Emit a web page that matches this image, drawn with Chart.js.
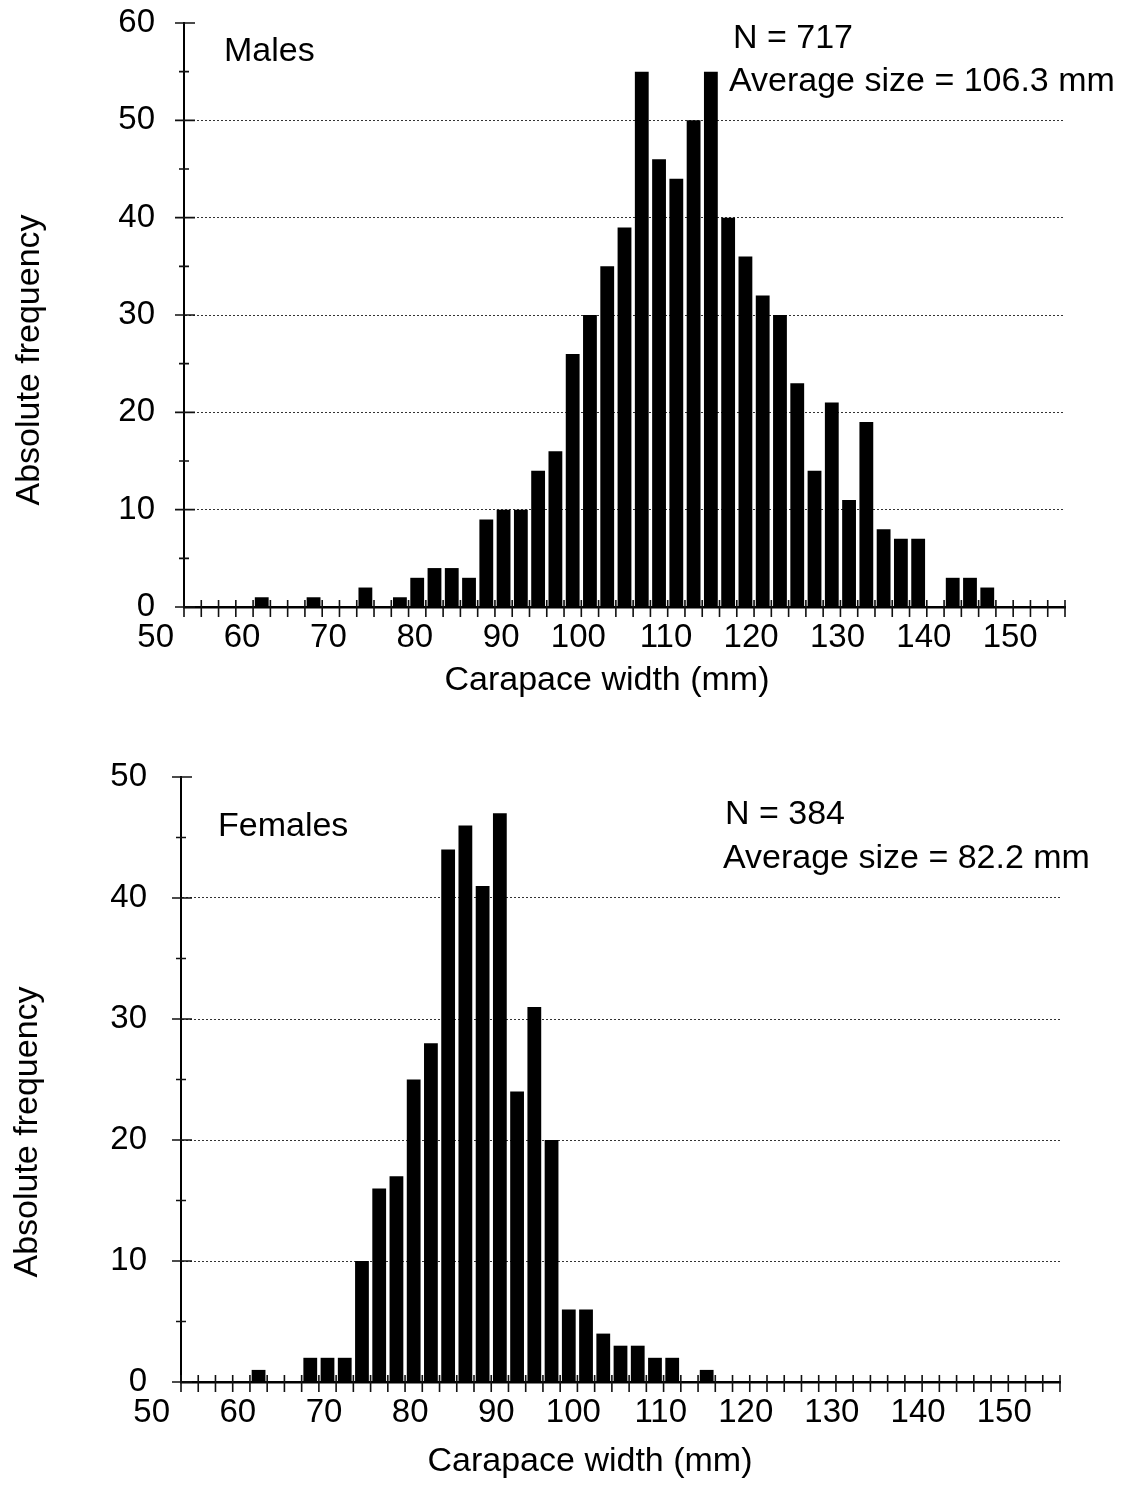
<!DOCTYPE html>
<html>
<head>
<meta charset="utf-8">
<script src="https://cdn.jsdelivr.net/npm/chart.js@4/dist/chart.umd.min.js"></script>
<style>
html,body{margin:0;padding:0;background:#fff;}
#wrap{position:relative;width:1127px;height:1485px;overflow:hidden;}
#c1{position:absolute;left:0;top:0;}
#c2{position:absolute;left:0;top:740px;}
</style>
</head>
<body>
<div id="wrap">
<canvas id="c1" width="1127" height="740"></canvas>
<canvas id="c2" width="1127" height="745"></canvas>
</div>
<script>
// ---- data ----
const binCenters = [51,53,55,57,59,61,63,65,67,69,71,73,75,77,79,81,83,85,87,89,91,93,95,97,99,101,103,105,107,109,111,113,115,117,119,121,123,125,127,129,131,133,135,137,139,141,143,145,147,149,151];
const maleCounts = [0,0,0,0,1,0,0,1,0,0,2,0,1,3,4,4,3,9,10,10,14,16,26,30,35,39,55,46,44,50,55,40,36,32,30,23,14,21,11,19,8,7,7,0,3,3,2,0,0,0,0];
const femaleCounts = [0,0,0,0,1,0,0,2,2,2,10,16,17,25,28,44,46,41,47,24,31,20,6,6,4,3,3,2,2,0,1,0,0,0,0,0,0,0,0,0,0,0,0,0,0,0,0,0,0,0,0];
const xTickLabels = [50,60,70,80,90,100,110,120,130,140,150];
const maleYTicks = [0,10,20,30,40,50,60];
const femaleYTicks = [0,10,20,30,40,50];
const maleInfo = ["Males", "N = 717", "Average size = 106.3 mm"];
const femaleInfo = ["Females", "N = 384", "Average size = 82.2 mm"];
const xTitle = "Carapace width (mm)";
const yTitle = "Absolute frequency";

const FAMILY = '"Liberation Sans", Arial, Helvetica, sans-serif';
Chart.defaults.font.family = FAMILY;
Chart.defaults.color = '#000';

// tick marks crossing the axes (drawn from the scales)
const axisDeco = {
  id: 'axisDeco',
  afterDatasetsDraw(chart) {
    const {ctx, chartArea: ca} = chart;
    const x = chart.scales.x, y = chart.scales.y;
    ctx.save();
    ctx.strokeStyle = '#111';
    ctx.lineWidth = 1.6;
    ctx.beginPath();
    ctx.moveTo(ca.left - 9, ca.bottom);
    ctx.lineTo(ca.left, ca.bottom);
    x.ticks.forEach(t => {
      const px = x.getPixelForValue(t.value);
      ctx.moveTo(px, ca.bottom - 7);
      ctx.lineTo(px, ca.bottom + 10);
    });
    y.ticks.forEach(t => {
      const py = y.getPixelForValue(t.value);
      ctx.moveTo(ca.left - 9, py);
      ctx.lineTo(ca.left + 11, py);
      const m = t.value + 5;
      if (m < y.max) {
        const pm = y.getPixelForValue(m);
        ctx.moveTo(ca.left - 5, pm);
        ctx.lineTo(ca.left + 5, pm);
      }
    });
    ctx.stroke();
    ctx.restore();
  }
};

// text annotations and axis titles
const annot = {
  id: 'annot',
  afterDraw(chart, args, opts) {
    const ctx = chart.ctx;
    (opts.items || []).forEach(it => {
      ctx.save();
      ctx.fillStyle = '#000';
      ctx.font = (it.size || 34) + 'px ' + FAMILY;
      ctx.textAlign = it.align || 'left';
      ctx.textBaseline = it.baseline || 'alphabetic';
      ctx.translate(it.x, it.y);
      if (it.rotate) ctx.rotate(it.rotate);
      ctx.fillText(it.text, 0, 0);
      ctx.restore();
    });
  }
};

function makeChart(id, counts, yMax, yTicks, geom, items) {
  return new Chart(document.getElementById(id), {
    type: 'bar',
    data: {
      datasets: [{
        data: binCenters.map((c, i) => ({x: c, y: counts[i]})),
        backgroundColor: '#000',
        borderWidth: 0,
        barPercentage: 0.8,
        categoryPercentage: 1.0
      }]
    },
    plugins: [axisDeco, annot],
    options: {
      responsive: false,
      animation: false,
      events: [],
      layout: {padding: {top: geom.top, right: geom.right, bottom: 0, left: 0}},
      plugins: {
        legend: {display: false},
        tooltip: {enabled: false},
        annot: {items: items}
      },
      scales: {
        x: {
          type: 'linear',
          min: 50, max: 152,
          offset: false,
          grid: {display: false, drawTicks: false},
          border: {display: true, color: '#000', width: 2.5},
          ticks: {
            stepSize: 2,
            autoSkip: false,
            maxRotation: 0, minRotation: 0,
            align: 'end',
            labelOffset: geom.labelOffset,
            padding: 11,
            color: '#000',
            font: {size: 33},
            callback: v => xTickLabels.includes(v) ? String(v) : ''
          },
          afterFit: s => { s.height = geom.xHeight; }
        },
        y: {
          min: 0, max: yMax,
          grid: {
            drawTicks: true,
            tickLength: geom.yPad,
            tickColor: 'rgba(0,0,0,0)',
            lineWidth: 1,
            color: c => (c.tick && (c.tick.value === 0 || c.tick.value === yMax)) ? 'rgba(0,0,0,0)' : '#333'
          },
          border: {display: true, color: '#000', width: 2, dash: [2, 2]},
          ticks: {
            stepSize: 10,
            padding: 0,
            color: '#000',
            font: {size: 33},
            callback: v => yTicks.includes(v) ? String(v) : ''
          },
          afterFit: s => { s.width = geom.left; }
        }
      }
    }
  });
}

makeChart('c1', maleCounts, 60, maleYTicks,
  {top: 23, right: 62, left: 184, xHeight: 133, yPad: 29, labelOffset: -10},
  [
    {text: maleInfo[0], x: 224, y: 61},
    {text: maleInfo[1], x: 733, y: 48},
    {text: maleInfo[2], x: 729, y: 91},
    {text: xTitle, x: 607, y: 681, align: 'center', baseline: 'middle'},
    {text: yTitle, x: 30, y: 360, align: 'center', baseline: 'middle', rotate: -Math.PI / 2}
  ]);

makeChart('c2', femaleCounts, 50, femaleYTicks,
  {top: 37, right: 67, left: 181, xHeight: 103, yPad: 34, labelOffset: -11},
  [
    {text: femaleInfo[0], x: 218, y: 96},
    {text: femaleInfo[1], x: 725, y: 84},
    {text: femaleInfo[2], x: 723, y: 128},
    {text: xTitle, x: 590, y: 722, align: 'center', baseline: 'middle'},
    {text: yTitle, x: 28, y: 392, align: 'center', baseline: 'middle', rotate: -Math.PI / 2}
  ]);
</script>
</body>
</html>
